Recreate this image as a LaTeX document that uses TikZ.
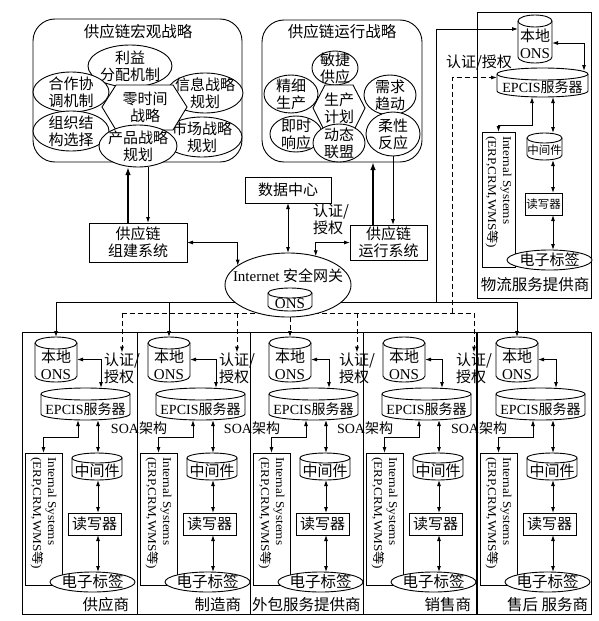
\documentclass[tikz,border=0pt]{standalone}
\usepackage{fontspec}
\setmainfont{Noto Sans CJK SC}
\newfontfamily\lat{Liberation Serif}
\newfontfamily\cjk{Noto Sans CJK SC}
\usetikzlibrary{shapes.geometric,arrows.meta}
\newcommand\mycyl[7]{%
 \pgfmathsetmacro\cyA{#2-#4}%
 \pgfmathsetmacro\cyB{#2+#4}%
 \pgfmathsetmacro\cyT{#3+#6}%
 \pgfmathsetmacro\cyU{#5-#6}%
 \pgfmathsetmacro\cyM{(#3+#5)/2}%
 \pgfmathsetmacro\cyH{#5-#3}%
 \pgfmathsetmacro\cyW{2*#4}%
 \pgfmathsetmacro\cyC{(#3+1.6*#6+#5)/2}%
 \draw[ln,fill=white] (\cyA,\cyT) -- (\cyA,\cyU) arc[start angle=180,end angle=360,x radius=#4pt,y radius=#6pt] -- (\cyB,\cyT) arc[start angle=0,end angle=180,x radius=#4pt,y radius=#6pt] -- cycle;
 \draw[ln] (\cyA,\cyT) arc[start angle=180,end angle=360,x radius=#4pt,y radius=#6pt];
 \node[minimum width=\cyW pt,minimum height=\cyH pt] (#1) at (#2,\cyM) {};
 \node (#1t) at (#2,\cyC) {#7};
}
\newcommand\myell[6]{%
 \node[ell,minimum width=#4pt,minimum height=#5pt] (#1) at (#2,#3) {};
 \node (#1t) at (#1) {#6};
}
\newcommand\intsys{\scalebox{1.1}[1]{Internal Systems}\\\scalebox{1.1}[1]{(ERP,CRM,WMS{\cjk 等})}}
\begin{document}
\begin{tikzpicture}[x=1pt,y=-1pt,
  every node/.style={inner sep=0pt,outer sep=0pt,align=center,font=\fontsize{15}{17}\selectfont},
  ln/.style={line width=0.9pt},
  ah/.tip={Latex[length=6pt,width=4pt]},
  arr/.style={ln,-ah},
  dbl/.style={ln,ah-ah},
  thk/.style={line width=1.7pt,-{Latex[length=8pt,width=5.5pt]}},
  dsh/.style={ln,dash pattern=on 5pt off 3pt,-ah},
  dl/.style={ln,dash pattern=on 5pt off 3pt},
  ell/.style={ellipse,draw,fill=white,ln},
  bx/.style={rectangle,draw,fill=white,ln},
  ist/.style={rotate=-90,anchor=west,align=left,font=\lat\fontsize{12}{15}\selectfont},
]
\fill[white] (0,0) rectangle (599,621);
\useasboundingbox (0,0) rectangle (599,621);

% ---------- macro strategy ----------
\node[draw,ln,rounded corners=22pt,minimum width=209pt,minimum height=143pt] (macro) at (137.5,90.5) {};
\node[font=\fontsize{15.5}{17}\selectfont] (macrot) at (138,32) {供应链宏观战略};
\myell{m1}{130}{66}{84}{42}{利益\\分配机制}
\myell{m2}{71}{92}{76}{40}{合作协\\调机制}
\myell{m3}{205}{93}{76}{40}{信息战略\\规划}
\myell{m4}{71}{131}{76}{40}{组织结\\构选择}
\myell{m5}{202}{137}{80}{40}{市场战略\\规划}
\draw[ln,fill=white] (102,107) -- (116,85) -- (173,85) -- (187,107) -- (173,130) -- (116,130) -- cycle;
\node (mh) at (145,107) {零时间\\战略};
\myell{pe}{138}{146}{78}{42}{产品战略\\规划}

% ---------- operation strategy ----------
\node[draw,ln,rounded corners=22pt,minimum width=160pt,minimum height=142pt] (opstr) at (342,91) {};
\node[font=\fontsize{15.5}{17}\selectfont] (opstrt) at (342,32) {供应链运行战略};
\myell{o1}{335}{68}{46}{34}{敏捷\\供应}
\myell{o2}{291}{94}{54}{38}{精细\\生产}
\myell{o3}{390}{95}{52}{40}{需求\\趋动}
\myell{o4}{296}{134}{52}{36}{即时\\响应}
\myell{o5}{393}{134}{54}{44}{柔性\\反应}
\draw[ln,fill=white] (313,108) -- (325,85) -- (353,85) -- (365,108) -- (353,132) -- (325,132) -- cycle;
\node (oh) at (339,108) {生产\\计划};
\myell{o6}{339}{143}{52}{38}{动态\\联盟}

% ---------- middle boxes ----------
\node[bx,minimum width=98pt,minimum height=39pt] (org) at (138,242.5) {供应链\\组建系统};
\node[bx,minimum width=86pt,minimum height=26pt] (dc) at (288,190) {数据中心};
\node[bx,minimum width=77pt,minimum height=35pt] (ops) at (388.5,242.5) {供应链\\运行系统};

\coordinate (xm1) at (128,0); \coordinate (xm2) at (148,0);
\coordinate (xo1) at (373,0); \coordinate (xo2) at (393,0);
\draw[thk] (org.north -| xm1) -- (pe.south -| xm1);
\draw[arr] (pe.south -| xm2) -- (org.north -| xm2);
\draw[thk] (ops.north -| xo1) -- (opstr.south -| xo1);
\draw[arr] (o5.south -| xo2) -- (ops.north -| xo2);

% ---------- logistics provider ----------
\node[draw,ln,minimum width=114pt,minimum height=286pt] (lg) at (534,155) {};
\mycyl{lons}{535}{15}{17}{63}{6}{本地\\{\lat ONS}}
\mycyl{lepc}{542.5}{68}{45.5}{97}{6}{\fontsize{14}{15}\selectfont{\lat EPCIS}服务器}
\node[bx,minimum width=33pt,minimum height=135pt] (lint) at (498.5,199.5) {};
\node[ist] (lintt) at ([yshift=-4pt]lint.north) {\intsys};
\mycyl{lmid}{544.5}{133}{17.5}{160}{5}{\fontsize{11.5}{13}\selectfont 中间件}
\node[bx,minimum width=37pt,minimum height=22pt,font=\fontsize{11.5}{13}\selectfont] (lrw) at (543.5,204) {读写器};
\myell{ltag}{549.5}{260}{85}{20}{电子标签}
\node[font=\fontsize{15.5}{17}\selectfont] (lgl) at (535,285) {物流服务提供商};
\node (lga) at (479,63) {认证/授权};
\coordinate (x553) at (553,0);
\draw[dbl] ([yshift=-4pt]lons.east) -| ([xshift=-4pt,yshift=-3pt]lepc.north east);
\draw[dbl] ([xshift=-10.5pt]lepc.south) -- ++(0,28) -| (lint.north);
\draw[dbl] (lepc.south -| x553) -- (lmid.north -| x553);
\draw[dbl] (lmid.south -| x553) -- (lrw.north -| x553);
\draw[dbl] (lrw.south -| x553) -- (ltag.north -| x553);

% ---------- bottom enterprises ----------
\foreach \i/\L/\R/\oc in {1/22/137/34,2/137/250/32,3/250/363/40,4/363/477/41,5/477/591/40}{
  \pgfmathsetmacro\bw{\R-\L}
  \pgfmathsetmacro\bc{(\L+\R)/2}
  \node[draw,ln,minimum width=\bw pt,minimum height=282pt] (bx\i) at (\bc,473) {};
  \pgfmathsetmacro\Lo{\L+\oc}
  \mycyl{ons\i}{\Lo}{337}{21}{382}{6}{本地\\{\lat ONS}}
  \pgfmathsetmacro\Le{\L+63.5}
  \mycyl{epc\i}{\Le}{388}{44.5}{420}{6}{\fontsize{14}{15}\selectfont{\lat EPCIS}服务器}
  \pgfmathsetmacro\Li{\L+21.5}
  \node[bx,minimum width=37pt,minimum height=132pt] (int\i) at (\Li,519) {};
  \node[ist] (intt\i) at ([yshift=-4pt]int\i.north) {\intsys};
  \pgfmathsetmacro\Lm{\L+75}
  \mycyl{mid\i}{\Lm}{453}{25}{480}{5}{中间件}
  \pgfmathsetmacro\Lr{\L+72.5}
  \node[bx,minimum width=53pt,minimum height=22pt] (rw\i) at (\Lr,524) {读写器};
  \pgfmathsetmacro\Lt{\L+70.5}
  \myell{tag\i}{\Lt}{582}{85}{20}{\fontsize{15.5}{17}\selectfont 电子标签}
  \coordinate (xa\i) at (\L+79,0);
  \coordinate (xb\i) at (\L+56,0);
  \coordinate (xc\i) at (\L+76,0);
  \draw[dbl] (ons\i.east) -| (epc\i.north -| xa\i);
  \draw[dbl] (epc\i.south -| xb\i) -- ++(0,17) -| (int\i.north);
  \draw[dbl] (epc\i.south -| xc\i) -- (mid\i.north -| xc\i);
  \draw[dbl] (mid\i.south -| xc\i) -- (rw\i.north -| xc\i);
  \draw[dbl] (rw\i.south -| xc\i) -- (tag\i.north -| xc\i);
}
\draw[line width=1.5pt] (bx5.north west) -- (bx5.south west);

\foreach \i/\d in {1/120,2/235,3/355,4/472}{
  \node[align=left] (aut\i) at (\d+2,368) {认证/\\授权};
}
\foreach \b in {137,250,363,477}{
  \node[font=\fontsize{14}{15}\selectfont] (soa\b) at (\b+2,428) {{\lat SOA}架构};
}
\node[anchor=east,font=\fontsize{15.5}{17}\selectfont] (lb1) at (129,605) {供应商};
\node[anchor=east,font=\fontsize{15.5}{17}\selectfont] (lb2) at (241,605) {制造商};
\node[anchor=west,font=\fontsize{15.5}{17}\selectfont] (lb3) at (252,605) {外包服务提供商};
\node[anchor=east,font=\fontsize{15.5}{17}\selectfont] (lb4) at (471,605) {销售商};
\node[anchor=east,font=\fontsize{15.5}{17}\selectfont] (lb5) at (588,605) {售后 服务商};

% ---------- distribution lines ----------
\coordinate (yS) at (0,302); \coordinate (yD) at (0,313);
\coordinate (j1) at (436,302); \coordinate (j2) at (452,313);
\draw[ln] (ons1.north |- yS) -- (ons5.north |- yS);
\foreach \i in {1,2,5}{ \draw[arr] (ons\i.north |- yS) -- (ons\i.north); }
\draw[dl] (aut1.north |- yD) -- (aut4.north |- yD);
\foreach \i in {1,...,4}{ \draw[dsh] (aut\i.north |- yD) -- (aut\i.north); }
\draw[arr] (j1) |- ([yshift=10pt]lons.west);
\draw[dsh] (j2) |- ([yshift=5pt]lepc.west);

% ---------- gateway ----------
\node[ell,minimum width=126pt,minimum height=64pt] (gw) at (288,285) {};
\node (gwt) at (288,276) {{\lat Internet} 安全网关};
\mycyl{gwons}{290}{288}{22}{311}{5}{\lat ONS}
\draw[dsh] (gw.south -| ons3.north) -- (ons3.north);
\draw[dbl] (org.east) -| (gw.159);
\draw[dbl] (dc.south) -- (gw.north);
\draw[dbl] (gw.46) |- (ops.west);
\node[anchor=north west,align=left] (gwa) at (313,204) {认证/\\授权};
\end{tikzpicture}
\end{document}
